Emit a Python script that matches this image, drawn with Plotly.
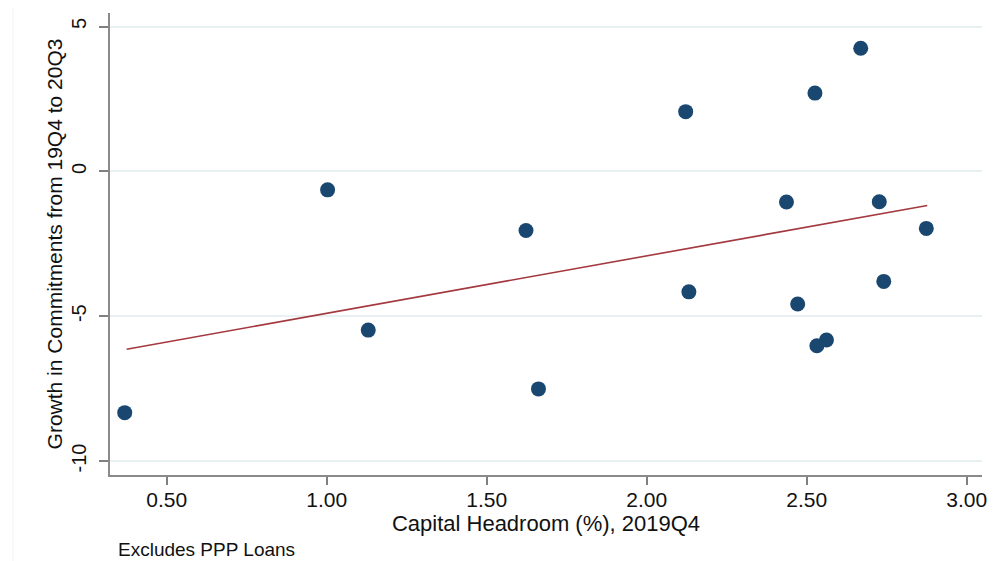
import plotly.graph_objects as go

# Data
headroom = [0.369, 1.003, 1.130, 1.623, 1.662, 2.122, 2.132, 2.437,
            2.472, 2.526, 2.532, 2.562, 2.669, 2.727, 2.741, 2.874]
growth = [-8.33, -0.64, -5.48, -2.04, -7.51, 2.06, -4.16, -1.06,
          -4.58, 2.70, -6.02, -5.82, 4.25, -1.05, -3.80, -1.97]
fit_x = [0.375, 2.877]
fit_y = [-6.14, -1.18]
x_ticks = [0.5, 1.0, 1.5, 2.0, 2.5, 3.0]
x_tick_text = ["0.50", "1.00", "1.50", "2.00", "2.50", "3.00"]
y_ticks = [5, 0, -5, -10]
y_tick_text = ["5", "0", "-5", "-10"]

FONT = "Liberation Sans, Arial, sans-serif"

fig = go.Figure()
fig.add_trace(go.Scatter(
    x=headroom, y=growth, mode="markers",
    marker=dict(color="#1a476f", size=15, line=dict(width=0)),
    showlegend=False, hoverinfo="x+y"))
fig.add_trace(go.Scatter(
    x=fit_x, y=fit_y, mode="lines",
    line=dict(color="#a4393f", width=1.6),
    showlegend=False))

fig.update_layout(
    width=998, height=561,
    margin=dict(l=110, r=16, t=13, b=86),
    paper_bgcolor="white", plot_bgcolor="white",
    font=dict(family=FONT, size=20, color="#111111"),
    xaxis=dict(
        range=[0.323, 3.048], tickmode="array",
        tickvals=x_ticks, ticktext=x_tick_text,
        ticks="outside", ticklen=8, tickwidth=1.5, tickcolor="#808080",
        showline=True, linecolor="#8a8a8a", linewidth=2,
        showgrid=False, zeroline=False,
        tickfont=dict(size=21),
        ticklabelstandoff=-3,
        title=dict(text="Capital Headroom (%), 2019Q4",
                   font=dict(size=22), standoff=0),
    ),
    yaxis=dict(
        range=[-10.483, 5.466], tickmode="array",
        tickvals=y_ticks, ticktext=y_tick_text, tickangle=-90,
        ticks="outside", ticklen=9, tickwidth=1.5, tickcolor="#808080",
        showline=True, linecolor="#8a8a8a", linewidth=2,
        showgrid=True, gridcolor="#e8f0f1", gridwidth=1.5,
        zeroline=False,
        tickfont=dict(size=20),
        ticklabelstandoff=5,
        title=dict(text="Growth in Commitments from 19Q4 to 20Q3",
                   font=dict(size=21), standoff=0),
    ),
    shapes=[dict(type="line", xref="paper", yref="paper",
                 x0=-97/872, x1=-97/872, y0=1.0 + 5/462, y1=-86/462,
                 line=dict(color="#f0f4f5", width=1))],
    annotations=[dict(text="Excludes PPP Loans", xref="paper", yref="paper",
                      x=(116 - 110) / 872, y=-(549 - 475) / 462,
                      xanchor="left", yanchor="middle", showarrow=False,
                      font=dict(size=19, family=FONT, color="#111111"))],
)

fig.write_html("out.html")
